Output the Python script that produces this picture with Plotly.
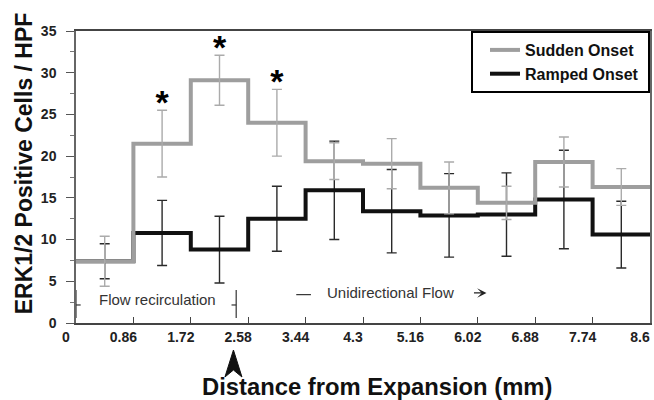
import plotly.graph_objects as go

# ---- data ----
edge_labels = ["0", "0.86", "1.72", "2.58", "3.44", "4.3", "5.16", "6.02", "6.88", "7.74", "8.6"]
sudden = [7.4, 21.5, 29.1, 24.0, 19.4, 19.1, 16.2, 14.4, 19.3, 16.3]
sudden_err = [3.0, 4.0, 3.0, 4.0, 2.2, 3.0, 3.1, 2.0, 3.0, 2.2]
ramped = [7.4, 10.8, 8.8, 12.5, 15.9, 13.4, 12.9, 13.0, 14.8, 10.6]
ramped_err = [2.1, 3.9, 4.0, 3.9, 5.9, 5.0, 5.0, 5.0, 5.9, 4.0]
star_bins = [1, 2, 3]
y_ticks = [0, 5, 10, 15, 20, 25, 30, 35]

edges = [float(t) for t in edge_labels]
centers = [(edges[i] + edges[i + 1]) / 2 for i in range(len(edges) - 1)]

FONT = "Liberation Sans"
GRAY = "#9e9e9e"
GRAY_ERR = "#ababab"
BLACK = "#111111"

fig = go.Figure()

# ramped error bars (under)
fig.add_trace(go.Scatter(
    x=centers, y=ramped, mode="markers",
    marker=dict(size=0, color="rgba(0,0,0,0)"),
    error_y=dict(type="data", array=ramped_err, color="#2a2a2a", thickness=1.4, width=5),
    showlegend=False, hoverinfo="skip"))

# ramped step line
fig.add_trace(go.Scatter(
    x=edges, y=ramped + [ramped[-1]], mode="lines", line_shape="hv",
    line=dict(color=BLACK, width=4), name="Ramped Onset\u00a0", legendgroup="b", legendrank=2))

# sudden step line
fig.add_trace(go.Scatter(
    x=edges, y=sudden + [sudden[-1]], mode="lines", line_shape="hv",
    line=dict(color=GRAY, width=4), name="Sudden Onset", legendgroup="a", legendrank=1))

# sudden error bars
fig.add_trace(go.Scatter(
    x=centers, y=sudden, mode="markers",
    marker=dict(size=0, color="rgba(0,0,0,0)"),
    error_y=dict(type="data", array=sudden_err, color=GRAY_ERR, thickness=1.4, width=5),
    showlegend=False, hoverinfo="skip"))

# significance stars
fig.add_trace(go.Scatter(
    x=[centers[i] for i in star_bins],
    y=[sudden[i] + sudden_err[i] + 0.55 for i in star_bins],
    mode="text", text=["*"] * len(star_bins), textposition="middle center",
    textfont=dict(family=FONT, size=34, color="black", weight="bold"),
    showlegend=False, hoverinfo="skip", cliponaxis=False))

fig.update_layout(
    width=654, height=400,
    margin=dict(l=76, r=2, t=31, b=77),
    paper_bgcolor="white", plot_bgcolor="white",
    font=dict(family=FONT, color="black"),
    showlegend=True,
    legend=dict(
        x=1, y=1, xanchor="right", yanchor="top",
        bordercolor="black", borderwidth=2, bgcolor="white",
        font=dict(family=FONT, size=16, color="#111", weight="bold"),
        traceorder="grouped", tracegroupgap=0, itemwidth=30, indentation=12,
    ),
)

fig.update_xaxes(
    range=[0, 8.6], tickvals=edges, ticktext=edge_labels,
    ticks="inside", ticklen=6, tickwidth=1.2, tickcolor="#444",
    showline=True, linecolor="#444", linewidth=1.5, mirror=True,
    showgrid=False, zeroline=False,
    tickfont=dict(family=FONT, size=14, color="#222", weight="bold"),
    ticklabelshift=-10, ticklabelstandoff=0,
)
fig.update_yaxes(
    range=[0, 35], tickvals=y_ticks,
    ticks="outside", ticklen=8, tickwidth=1.2, tickcolor="#555",
    minor=dict(dtick=2.5, ticks="outside", ticklen=4, tickcolor="#777", tickwidth=1),
    showline=True, linecolor="#666", linewidth=1.5, mirror=True,
    showgrid=False, zeroline=False,
    tickfont=dict(family=FONT, size=14, color="#222", weight="bold"),
    ticklabelstandoff=7,
)

# axis titles
fig.add_annotation(
    text="ERK1/2 Positive Cells / HPF", textangle=-90,
    xref="paper", yref="paper", x=-0.09, y=0.548, xanchor="center", yanchor="middle",
    showarrow=False, font=dict(family=FONT, size=23, color="#111", weight="bold"))
fig.add_annotation(
    text="Distance from Expansion (mm)",
    xref="paper", yref="paper", x=0.524, y=-0.218, xanchor="center", yanchor="middle",
    showarrow=False, font=dict(family=FONT, size=23.8, color="#111", weight="bold"))

# expansion arrowhead under the 2.58 label (pixel-sized path anchored below the plot area)
fig.add_shape(
    type="path", xref="paper", yref="paper", xsizemode="pixel", ysizemode="pixel",
    xanchor=0.2743, yanchor=0,
    path="M0,-27 L-8.5,-54 L0,-47 L8.5,-54 Z",
    fillcolor="#111", line=dict(color="#111", width=1))

# flow recirculation bracket
fig.add_annotation(
    text="Flow recirculation", x=1.217, y=2.76, xref="x", yref="y",
    showarrow=False, font=dict(family=FONT, size=15, color="#333"))
for xx, dx in [(0.0, 0.07), (2.40, -0.07)]:
    fig.add_shape(type="line", x0=xx, x1=xx, y0=0.6, y1=3.95, xref="x", yref="y",
                  line=dict(color="#333", width=1.2))
    fig.add_shape(type="line", x0=xx, x1=xx + dx, y0=2.16, y1=2.16, xref="x", yref="y",
                  line=dict(color="#333", width=1.2))

# unidirectional flow
fig.add_shape(type="line", x0=3.30, x1=3.52, y0=3.4, y1=3.4, xref="x", yref="y",
              line=dict(color="#333", width=1.2))
fig.add_annotation(
    text="Unidirectional Flow", x=4.71, y=3.63, xref="x", yref="y",
    showarrow=False, font=dict(family=FONT, size=15, color="#333"))
fig.add_annotation(
    x=6.15, y=3.6, xref="x", yref="y", ax=-14, ay=0, text="",
    showarrow=True, arrowhead=3, arrowsize=1.3, arrowwidth=1.2, arrowcolor="#222")

# remove the default page margin so the 654x400 figure fills the window exactly
fig.write_html(
    "out.html",
    config={"displayModeBar": False},
    post_script="document.body.style.margin='0px';document.body.style.overflow='hidden';",
)
